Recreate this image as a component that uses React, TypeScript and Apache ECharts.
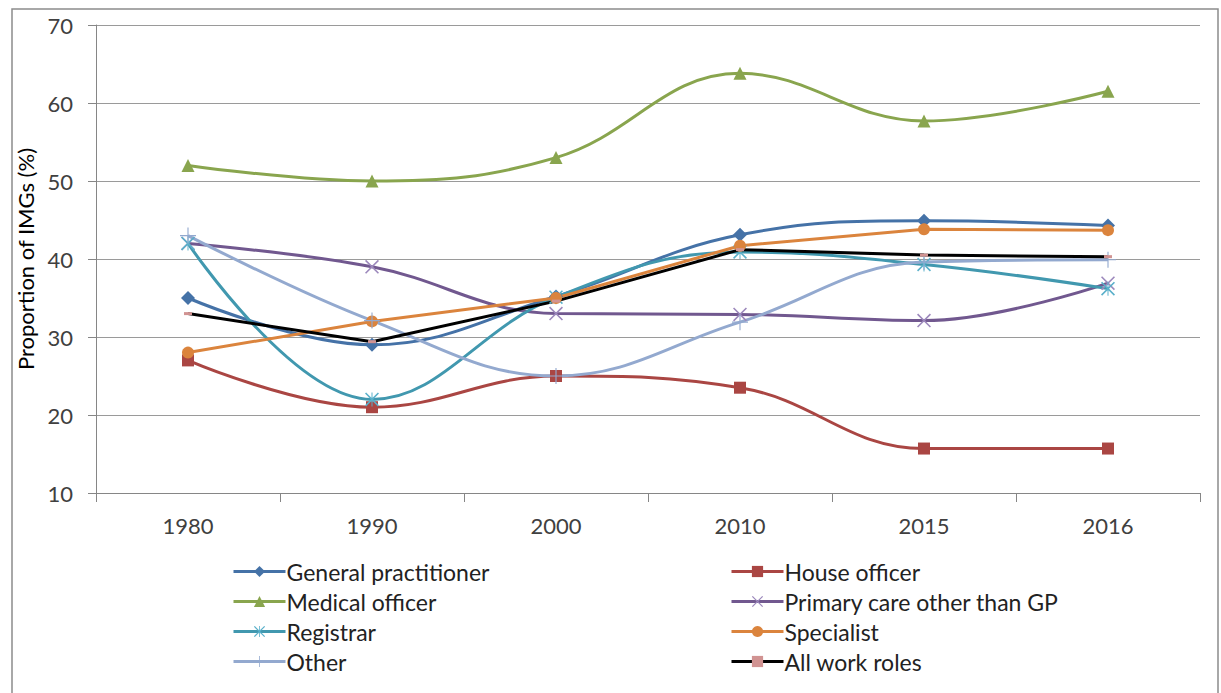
import React, { useEffect, useRef } from "react";
import * as echarts from "echarts";

const years = ["1980", "1990", "2000", "2010", "2015", "2016"];
const generalPractitioner = [35.0, 29.0, 35.2, 43.1, 44.9, 44.3];
const houseOfficer = [27.0, 21.0, 25.0, 23.5, 15.7, 15.7];
const medicalOfficer = [52.0, 50.0, 53.0, 63.8, 57.7, 61.5];
const primaryCare = [42.0, 39.0, 33.0, 32.9, 32.1, 36.9];
const registrar = [42.0, 22.0, 35.1, 40.9, 39.3, 36.2];
const specialist = [28.0, 32.0, 35.0, 41.7, 43.8, 43.7];
const other = [43.0, 32.1, 25.0, 31.9, 39.6, 39.9];
const allWorkRoles = [33.0, 29.4, 34.6, 41.2, 40.5, 40.3];

const X_PATH = "path://M0,1.6 L1.6,0 L20,18.4 L18.4,20 Z M18.4,0 L20,1.6 L1.6,20 L0,18.4 Z";
const PLUS_PATH = "path://M9.3,0 L10.7,0 L10.7,20 L9.3,20 Z M0,9.3 L20,9.3 L20,10.7 L0,10.7 Z";
const STAR_PATH =
  "path://M0,1.6 L1.6,0 L20,18.4 L18.4,20 Z M18.4,0 L20,1.6 L1.6,20 L0,18.4 Z M9.3,0 L10.7,0 L10.7,20 L9.3,20 Z";
const DASH_PATH = "path://M0,0 L8,0 L8,3 L0,3 Z";

const FONT = "Lato, 'Open Sans', sans-serif";

export default function App() {
  const ref = useRef<HTMLDivElement>(null);
  useEffect(() => {
    if (!ref.current) return;
    const chart = echarts.init(ref.current, undefined, { renderer: "svg" });
    const mk = (
      name: string,
      data: number[],
      color: string,
      symbol: string,
      symbolSize: number | number[],
      smooth: boolean | number,
      markerColor?: string,
      keepAspect?: boolean
    ) => ({
      name,
      type: "line",
      data,
      smooth,
      symbol,
      symbolSize,
      symbolKeepAspect: !!keepAspect,
      showSymbol: true,
      lineStyle: { color, width: 3 },
      itemStyle: { color: markerColor || color, borderWidth: 0 },
      emphasis: { disabled: true },
    });
    const series = [
      mk("General practitioner", generalPractitioner, "#4572A7", "diamond", 14, 0.4),
      mk("House officer", houseOfficer, "#AA4643", "rect", 12, 0.4),
      mk("Medical officer", medicalOfficer, "#89A54E", "triangle", 13, 0.4),
      mk("Primary care other than GP", primaryCare, "#71588F", X_PATH, 14, 0.4, "#9C88BC"),
      mk("Registrar", registrar, "#4198AF", STAR_PATH, 14, 0.4, "#5AB0CA"),
      mk("Specialist", specialist, "#DB843D", "circle", 12, false),
      mk("Other", other, "#93A9CF", PLUS_PATH, 16, 0.4),
      mk("All work roles", allWorkRoles, "#000000", DASH_PATH, 8, false, "#D19392", true),
    ];
    const legendCommon = {
      orient: "vertical",
      top: 560,
      padding: 0,
      itemWidth: 52,
      itemHeight: 14,
      itemGap: 7,
      lineStyle: { width: 3 },
      textStyle: { fontFamily: FONT, fontSize: 23, color: "#222", lineHeight: 23, padding: [0, 0, 0, -4] },
      selectedMode: false,
    };
    chart.setOption({
      animation: false,
      grid: { left: 96, right: 21, top: 25, bottom: 200, containLabel: false },
      xAxis: {
        type: "category",
        data: years,
        boundaryGap: true,
        axisLine: { lineStyle: { color: "#868686", width: 1 } },
        axisTick: { show: true, length: 9, lineStyle: { color: "#868686" } },
        axisLabel: { fontFamily: FONT, fontSize: 22, color: "#404040", margin: 21 },
      },
      yAxis: {
        type: "value",
        min: 10,
        max: 70,
        interval: 10,
        name: "Proportion of IMGs (%)",
        nameLocation: "middle",
        nameRotate: 90,
        nameGap: 51,
        nameTextStyle: { fontFamily: FONT, fontSize: 22, color: "#000" },
        axisLine: { show: true, lineStyle: { color: "#868686", width: 1 } },
        axisTick: { show: true, length: 8, lineStyle: { color: "#868686" } },
        axisLabel: { fontFamily: FONT, fontSize: 22, color: "#404040", margin: 23 },
        splitLine: { show: true, lineStyle: { color: "#9a9a9a", width: 1 } },
      },
      legend: [
        {
          ...legendCommon,
          left: 232,
          data: ["General practitioner", "Medical officer", "Registrar", "Other"],
        },
        {
          ...legendCommon,
          left: 730,
          data: ["House officer", "Primary care other than GP", "Specialist", "All work roles"],
        },
      ],
      graphic: [
        {
          type: "rect",
          shape: { x: 12, y: 9, width: 1206, height: 700 },
          style: { fill: "none", stroke: "#8c8c8c", lineWidth: 1.5 },
          silent: true,
          z: -1,
        },
      ],
      series,
    });
    return () => chart.dispose();
  }, []);
  return (
    <div
      ref={ref}
      style={{ position: "fixed", left: 0, top: 0, width: 1221, height: 693, background: "#fff" }}
    />
  );
}
